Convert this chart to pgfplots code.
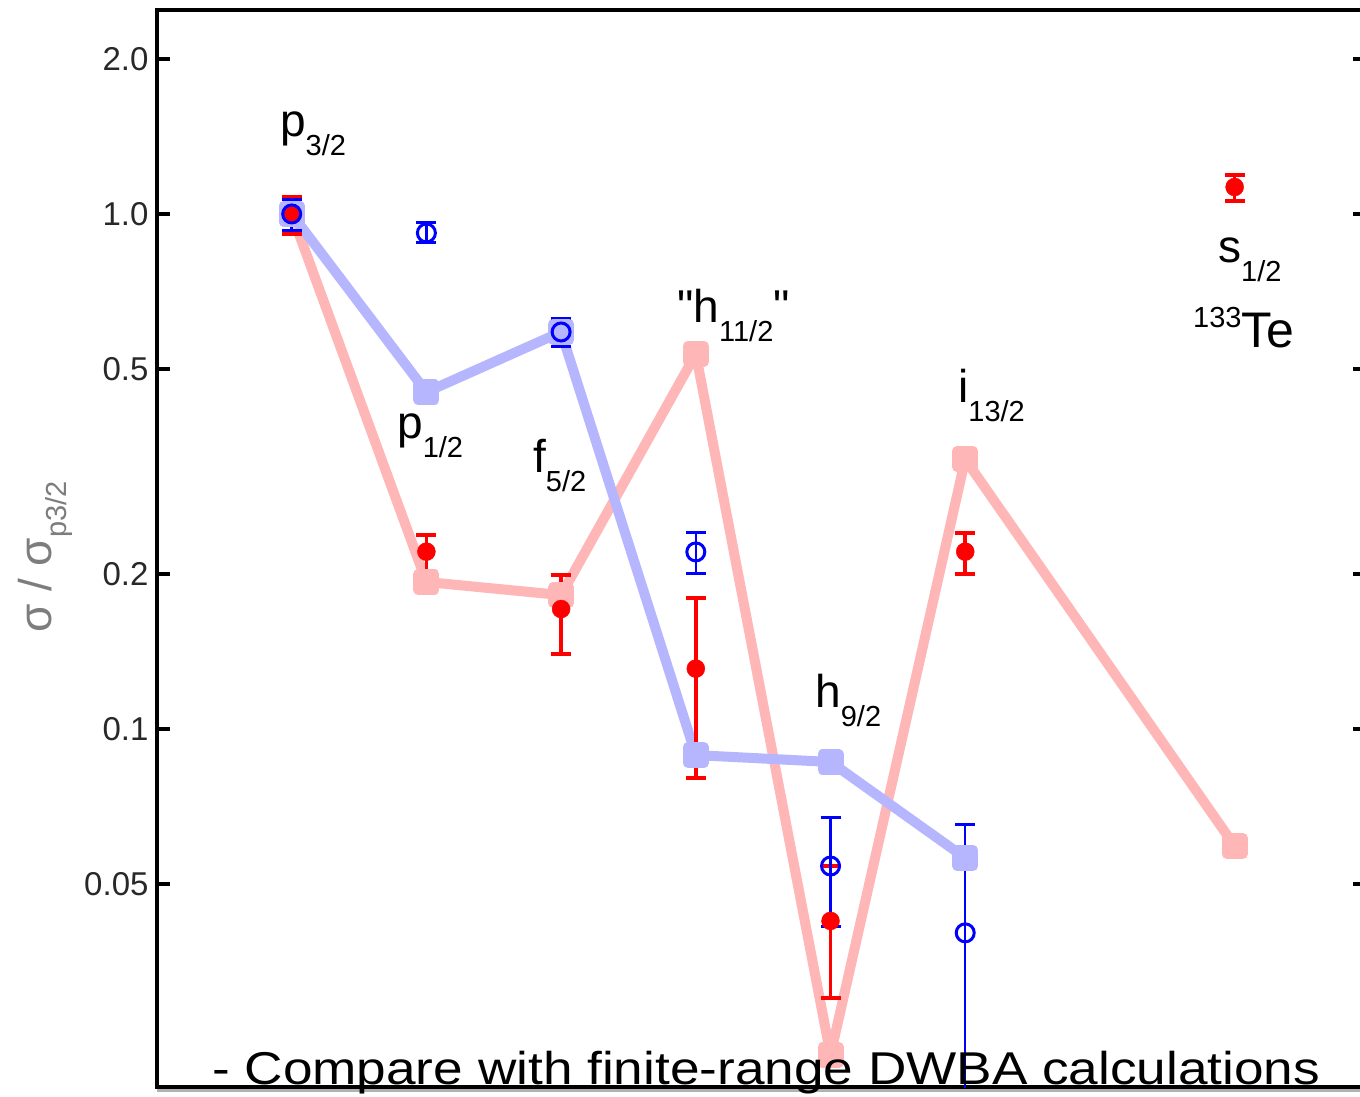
\documentclass[border=0pt]{standalone}
\usepackage{pgfplots}
\pgfplotsset{compat=1.18}
\usepackage{pgfplotstable}
\usepackage{fontspec}
\setmainfont{Liberation Sans}

\definecolor{expred}{RGB}{255,0,0}
\definecolor{expblue}{RGB}{0,0,255}
\definecolor{calcred}{RGB}{255,182,182}
\definecolor{calcblue}{RGB}{182,182,255}
\definecolor{labgray}{RGB}{125,125,125}
\definecolor{tickgray}{RGB}{40,40,40}

% orbital label: main letter plus lowered subscript
\newcommand\lab[2]{\fontsize{46}{46}\selectfont #1\raisebox{-19pt}{\fontsize{29}{29}\selectfont #2}}

% DWBA calculations (relative to p3/2)
\pgfplotstableread{
x y
0 1.0
1 0.193
2 0.182
3 0.535
4 0.0233
5 0.334
7 0.0593
}\calcred
\pgfplotstableread{
x y
0 1.0
1 0.451
2 0.590
3 0.0890
4 0.0863
5 0.0562
}\calcblue
% measured ratios with asymmetric errors
\pgfplotstableread{
x y ep em
0 1.000 0.079 0.085
1 0.221 0.0175 0.0202
2 0.171 0.028 0.0312
3 0.131 0.0488 0.0505
4 0.0424 0.0118 0.0124
5 0.221 0.0195 0.0207
7 1.128 0.062 0.068
}\expred
\pgfplotstableread{
x y ep em
0 1.000 0.069 0.073
1 0.9186 0.042 0.040
2 0.590 0.038 0.038
3 0.2207 0.0195 0.0202
4 0.0542 0.013 0.0129
5 0.0402 0.0252 0.0282
}\expblue

\begin{document}
\begin{tikzpicture}
\useasboundingbox (-157pt,-10pt) rectangle (1203pt,1087pt);
\begin{axis}[
  at={(0,0)}, anchor=south west,
  scale only axis, width=1209pt, height=1077pt,
  xmin=-1, xmax=7.975,
  ymode=log, ymin=0.02018, ymax=2.489,
  axis line style={line width=4pt, black},
  xtick=\empty,
  ytick={0.05,0.1,0.2,0.5,1,2},
  yticklabels={0.05,0.1,0.2,0.5,1.0,2.0},
  ytick pos=both, yticklabel pos=left,
  yminorticks=false,
  tick align=inside,
  major tick length=13pt,
  every tick/.style={line width=4pt, black},
  yticklabel style={font=\fontsize{33}{33}\selectfont, text=tickgray, xshift=-5pt},
]
\addplot[calcred, line width=10pt, line join=round, mark=square*,
  mark size=8pt, mark options={draw=none, fill=calcred, rounded corners=3pt}] table[x=x, y=y] {\calcred};
\addplot[calcblue, line width=10pt, line join=round, mark=square*,
  mark size=8pt, mark options={draw=none, fill=calcblue, rounded corners=3pt}] table[x=x, y=y] {\calcblue};

\addplot[only marks, expred, mark=*, mark size=9pt,
  error bars/.cd, y dir=both, y explicit,
  error bar style={line width=3.5pt, expred},
  error mark options={rotate=90, mark size=10pt, line width=4pt, expred}]
  table[x=x, y=y, y error plus=ep, y error minus=em] {\expred};
\addplot[only marks, expblue, mark=o, mark size=9pt, mark options={line width=3pt},
  error bars/.cd, y dir=both, y explicit,
  error bar style={line width=2.5pt, expblue},
  error mark options={rotate=90, mark size=10pt, line width=3pt, expblue}]
  table[x=x, y=y, y error plus=ep, y error minus=em] {\expblue};

\node[anchor=base west, inner sep=0] at (rel axis cs:0.1017,0.8821) {\lab{p}{3/2}};
\node[anchor=base west, inner sep=0] at (rel axis cs:0.1985,0.6026) {\lab{p}{1/2}};
\node[anchor=base west, inner sep=0] at (rel axis cs:0.3110,0.5710) {\lab{f}{5/2}};
\node[anchor=base west, inner sep=0] at (rel axis cs:0.4301,0.7103) {\lab{\textquotedbl h}{11/2}\fontsize{46}{46}\selectfont\textquotedbl};
\node[anchor=base west, inner sep=0] at (rel axis cs:0.5443,0.3528) {\lab{h}{9/2}};
\node[anchor=base west, inner sep=0] at (rel axis cs:0.6625,0.6351) {\lab{i}{13/2}};
\node[anchor=base west, inner sep=0] at (rel axis cs:0.8776,0.7660) {\lab{s}{1/2}};
\node[anchor=base west, inner sep=0] at (rel axis cs:0.8569,0.6862)
  {\raisebox{20pt}{\fontsize{29}{29}\selectfont 133}\fontsize{50}{50}\selectfont Te};
\end{axis}
\draw[black!30, line width=3pt] (0,-3.5pt) -- (1209pt,-3.5pt);
\node[rotate=90, anchor=base, inner sep=0, text=labgray] at (-105pt,530pt)
  {\fontsize{46}{46}\selectfont σ / σ\raisebox{-15pt}{\fontsize{29}{29}\selectfont p3/2}};
\node[anchor=base west, inner sep=0] at (55pt,2pt)
  {\resizebox{1108pt}{\height}{\fontsize{46}{46}\selectfont - Compare with finite-range DWBA calculations}};
\end{tikzpicture}
\end{document}
